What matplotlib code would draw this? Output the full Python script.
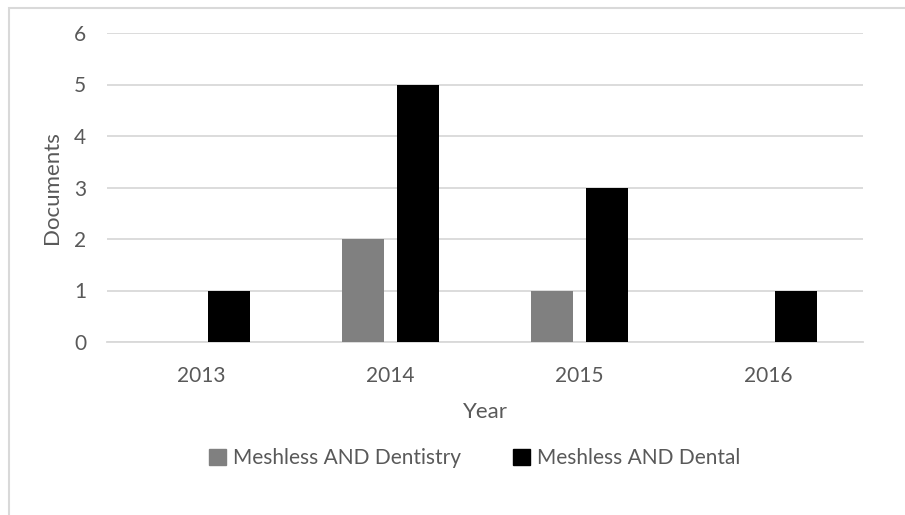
import numpy as np
import matplotlib.pyplot as plt
from matplotlib.patches import Rectangle, Patch

# document counts per year for the two search queries
years = ['2013', '2014', '2015', '2016']
dentistry = [0, 2, 1, 0]
dental = [1, 5, 3, 1]
series_names = ['Meshless AND Dentistry', 'Meshless AND Dental']

plt.rcParams['font.family'] = ['Lato', 'DejaVu Sans']
text_color = '#595959'
grid_color = '#d9d9d9'

fig = plt.figure(figsize=(9.05, 5.15), dpi=100)
ax = fig.add_axes([107 / 905, (515 - 342) / 515, (863 - 107) / 905, (342 - 33) / 515])

x = np.arange(len(years))
width = 0.222
offset = 0.143
ax.bar(x - offset, dentistry, width, color='#808080', zorder=3)
ax.bar(x + offset, dental, width, color='#000000', zorder=3)

ax.set_xlim(-0.5, len(years) - 0.5)
ax.set_ylim(0, 6)
ax.set_yticks(range(0, 7))
ax.set_xticks(x)
ax.set_xticklabels(years)
ax.grid(axis='y', color=grid_color, linewidth=1.3, zorder=0)
ax.tick_params(length=0, labelsize=15, colors=text_color)
ax.tick_params(axis='y', pad=15)
ax.tick_params(axis='x', pad=17)
for side in ['top', 'right', 'left']:
    ax.spines[side].set_visible(False)
ax.spines['bottom'].set_color(grid_color)
ax.spines['bottom'].set_linewidth(1.3)

ax.set_xlabel('Year', fontsize=16, color=text_color, labelpad=12)
ax.set_ylabel('Documents', fontsize=16, color=text_color, labelpad=9)

handles = [Patch(color='#808080'), Patch(color='#000000')]
fig.legend(handles, series_names, loc='center', bbox_to_anchor=(475 / 905, 1 - 458 / 515),
           ncol=2, frameon=False, fontsize=15, labelcolor=text_color,
           handlelength=0.8, handleheight=0.8, handletextpad=0.35, columnspacing=2.5)

# chart-area outline, running off the right and bottom of the image
fig.patches.append(Rectangle((9 / 905, -0.1), 1.2, 1.1 - 8 / 515, transform=fig.transFigure,
                             fill=False, edgecolor=grid_color, linewidth=1.5))

fig.savefig('out.png', dpi=100)
